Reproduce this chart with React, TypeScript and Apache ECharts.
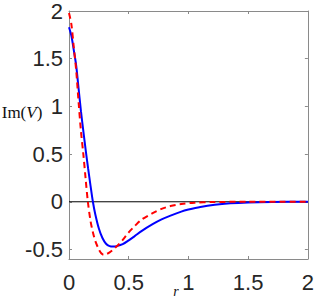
import React, { useEffect, useRef } from "react";
import * as echarts from "echarts";

const xTicks = [0, 0.5, 1, 1.5, 2];
const yTicks = [-0.5, 0, 0.5, 1, 1.5, 2];

const rBlue = [0, 0.02, 0.04, 0.06, 0.08, 0.1, 0.12, 0.14, 0.16, 0.18, 0.2, 0.22, 0.25, 0.28, 0.31, 0.34, 0.37, 0.4, 0.45, 0.5, 0.55, 0.61, 0.7, 0.775, 0.85, 0.94, 1.0, 1.1, 1.22, 1.35, 1.5, 1.7, 2.0];
const vBlue = [1.83, 1.74, 1.59, 1.43, 1.19, 0.95, 0.74, 0.54, 0.35, 0.17, 0.0, -0.13, -0.28, -0.38, -0.44, -0.465, -0.47, -0.465, -0.445, -0.405, -0.36, -0.305, -0.235, -0.185, -0.145, -0.103, -0.082, -0.054, -0.031, -0.016, -0.007, -0.002, 0];

const rRed = [0, 0.02, 0.04, 0.06, 0.08, 0.1, 0.12, 0.14, 0.158, 0.18, 0.2, 0.22, 0.25, 0.27, 0.29, 0.31, 0.34, 0.38, 0.418, 0.45, 0.5, 0.55, 0.61, 0.7, 0.775, 0.85, 0.94, 1.05, 1.2, 1.5, 2.0];
const vRed = [1.98, 1.86, 1.62, 1.38, 1.05, 0.74, 0.5, 0.23, 0.0, -0.2, -0.32, -0.41, -0.5, -0.54, -0.555, -0.55, -0.53, -0.49, -0.445, -0.4, -0.32, -0.255, -0.185, -0.12, -0.075, -0.045, -0.024, -0.01, -0.003, 0, 0];

const zeroLine = [[0, 0], [2, 0]];

export default function App() {
  const ref = useRef<HTMLDivElement>(null);
  useEffect(() => {
    if (!ref.current) return;
    const chart = echarts.init(ref.current, undefined, { renderer: "svg" });
    const axisColor = "#8a8a8a";
    const labelFont = {
      fontFamily: "'Liberation Sans Narrow', 'Liberation Sans', Arial, sans-serif",
      fontSize: 22,
      color: "#262626",
    };
    const fmt = (v: number) => String(v);
    chart.setOption({
      animation: false,
      grid: { left: 69, right: 4, top: 8, bottom: 41 },
      xAxis: [
        {
          type: "value", min: 0, max: 2, interval: 0.5, position: "bottom",
          axisLine: { show: true, onZero: false, lineStyle: { color: axisColor, width: 1 } },
          axisTick: { show: true, inside: true, length: 3, lineStyle: { color: axisColor }, customValues: xTicks },
          axisLabel: { ...labelFont, margin: 12, formatter: fmt, customValues: xTicks },
          splitLine: { show: false },
        },
        {
          type: "value", min: 0, max: 2, interval: 0.5, position: "top",
          axisLine: { show: true, onZero: false, lineStyle: { color: axisColor, width: 1 } },
          axisTick: { show: true, inside: true, length: 3, lineStyle: { color: axisColor }, customValues: xTicks },
          axisLabel: { show: false },
          splitLine: { show: false },
        },
      ],
      yAxis: [
        {
          type: "value", min: -0.6, max: 2, position: "left",
          axisLine: { show: true, onZero: false, lineStyle: { color: axisColor, width: 1 } },
          axisTick: { show: true, inside: true, length: 3, lineStyle: { color: axisColor }, customValues: yTicks },
          axisLabel: { ...labelFont, margin: 6, formatter: fmt, customValues: yTicks },
          splitLine: { show: false },
        },
        {
          type: "value", min: -0.6, max: 2, position: "right",
          axisLine: { show: true, onZero: false, lineStyle: { color: axisColor, width: 1 } },
          axisTick: { show: true, inside: true, length: 3, lineStyle: { color: axisColor }, customValues: yTicks },
          axisLabel: { show: false },
          splitLine: { show: false },
        },
      ],
      graphic: [
        {
          type: "text", x: 22, y: 112,
          style: {
            text: "{a|Im(}{b|V}{a|)}",
            align: "center", verticalAlign: "middle",
            rich: {
              a: { fontFamily: "'Liberation Serif', 'DejaVu Serif', serif", fontSize: 17, fill: "#111" },
              b: { fontFamily: "'Liberation Serif', 'DejaVu Serif', serif", fontSize: 17, fontStyle: "italic", fill: "#111" },
            },
          },
        },
        {
          type: "text", x: 176, y: 291,
          style: {
            text: "r", align: "center", verticalAlign: "middle",
            font: "italic 14px 'Liberation Serif', 'DejaVu Serif', serif", fill: "#111",
          },
        },
      ],
      series: [
        {
          type: "line", data: zeroLine, showSymbol: false, symbol: "none",
          lineStyle: { color: "#000", width: 1 }, silent: true,
        },
        {
          type: "line", data: rBlue.map((r, i) => [r, vBlue[i]]), showSymbol: false, symbol: "none",
          smooth: 0.3,
          lineStyle: { color: "#0000ff", width: 2 },
        },
        {
          type: "line", data: rRed.map((r, i) => [r, vRed[i]]), showSymbol: false, symbol: "none",
          smooth: 0.3,
          lineStyle: { color: "#ff0000", width: 2, type: [6, 4] },
        },
      ],
    });
    return () => chart.dispose();
  }, []);
  return <div ref={ref} style={{ width: 317, height: 300, position: "absolute", left: 0, top: 0 }} />;
}
